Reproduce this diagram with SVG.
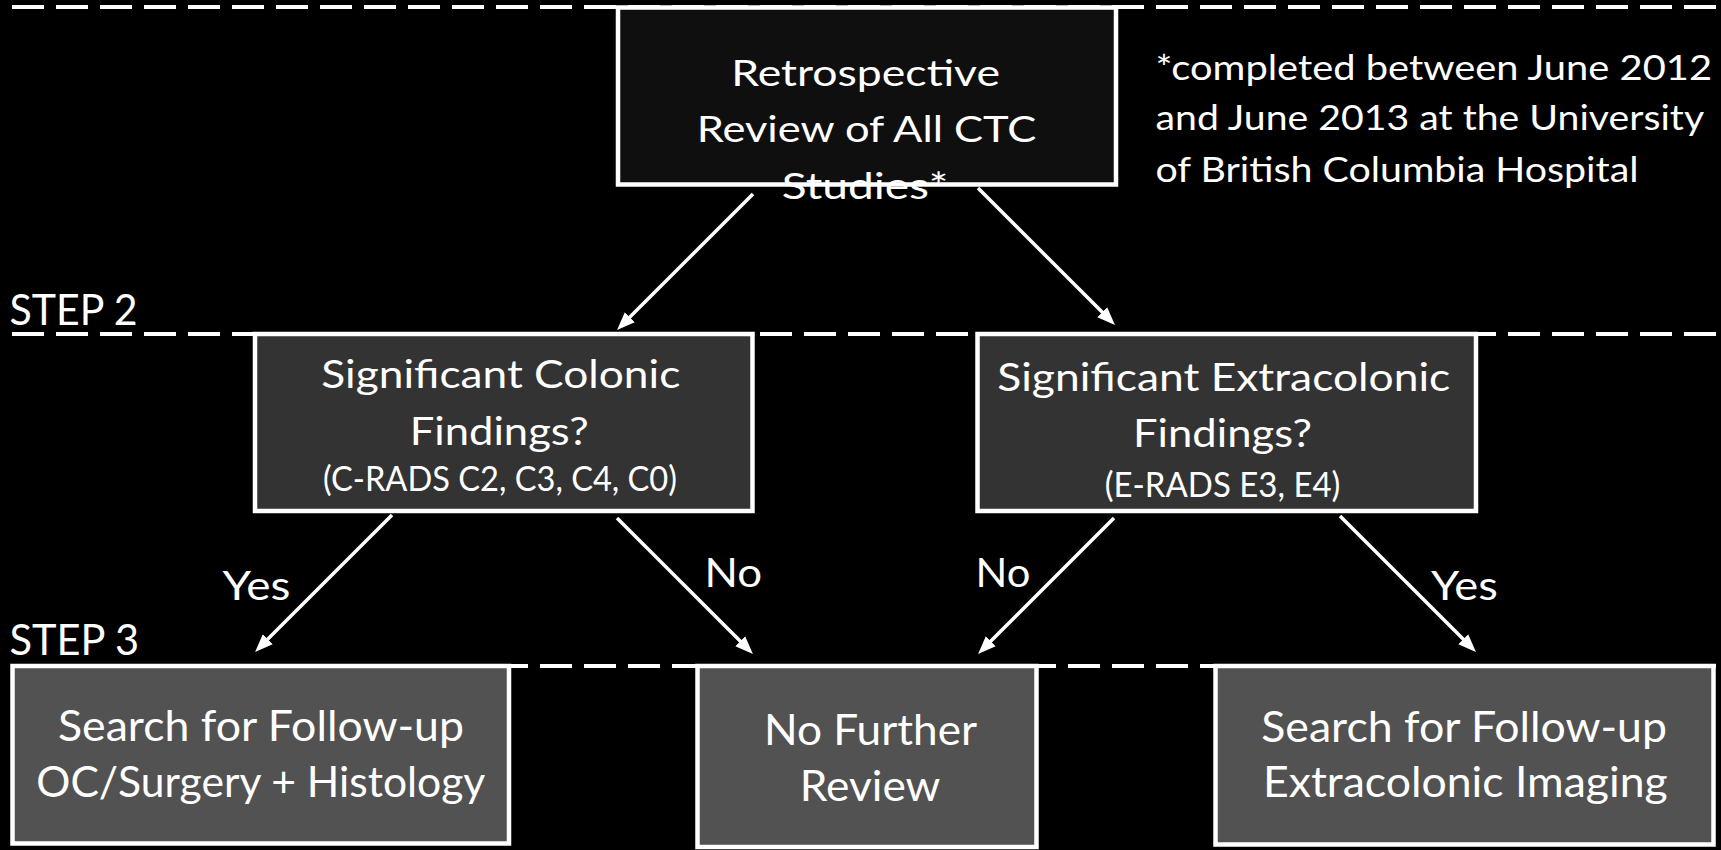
<svg xmlns="http://www.w3.org/2000/svg" width="1721" height="850" viewBox="0 0 1721 850">
<defs>
<style>
.bg{fill:#000}
.dash{stroke:#fff;stroke-width:4;stroke-dasharray:32 12;fill:none}
.box{stroke:#fff;stroke-width:4.5}
.b0{fill:#0f0f0f}
.b1{fill:#333333}
.b2{fill:#525252}
text{font-family:Lato,"Open Sans","Liberation Sans",sans-serif;fill:#fff}
.tf{font-size:35px}
.tt{font-size:36px}
.tm{font-size:39px}
.ts{font-size:35px}
.ty{font-size:40px}
.tb{font-size:42px}
.tstep{font-size:43px}
.arrow{stroke:#fff;stroke-width:3.5;fill:none;marker-end:url(#ah)}
</style>
<marker id="ah" markerUnits="userSpaceOnUse" markerWidth="19" markerHeight="15" refX="9" refY="7.5" orient="auto">
<path d="M0,0.5 L18,7.5 L0,14.5 z" fill="#fff"/>
</marker>
</defs>
<rect class="bg" x="0" y="0" width="1721" height="850"/>
<g id="step-lines">
<line class="dash" x1="12" y1="7" x2="1721" y2="7"/>
<line class="dash" x1="12" y1="334" x2="1721" y2="334"/>
<line class="dash" x1="12" y1="666" x2="1716" y2="666"/>
<text class="tstep" x="9.5" y="325" textLength="128" lengthAdjust="spacingAndGlyphs">STEP 2</text>
<text class="tstep" x="9.5" y="655" textLength="129.6" lengthAdjust="spacingAndGlyphs">STEP 3</text>
</g>
<g id="footnote">
<text class="tf" x="1155.5" y="80" textLength="556.5" lengthAdjust="spacingAndGlyphs">*completed between June 2012</text>
<text class="tf" x="1155.5" y="130" textLength="548.6" lengthAdjust="spacingAndGlyphs">and June 2013 at the University</text>
<text class="tf" x="1155.5" y="182" textLength="483" lengthAdjust="spacingAndGlyphs">of British Columbia Hospital</text>
</g>
<g id="connectors">
<line class="arrow" x1="753" y1="194" x2="623.4" y2="323.6"/>
<line class="arrow" x1="978" y1="188" x2="1108.6" y2="318.6"/>
<line class="arrow" x1="392" y1="515" x2="261.4" y2="645.6"/>
<line class="arrow" x1="617" y1="518" x2="746.6" y2="647.6"/>
<line class="arrow" x1="1114" y1="518" x2="984.4" y2="647.6"/>
<line class="arrow" x1="1340" y1="516" x2="1469.6" y2="645.6"/>
<text class="ty" x="222.5" y="600" textLength="67.8" lengthAdjust="spacingAndGlyphs">Yes</text>
<text class="ty" x="704.6" y="587" textLength="57.6" lengthAdjust="spacingAndGlyphs">No</text>
<text class="ty" x="975.5" y="587" textLength="54.8" lengthAdjust="spacingAndGlyphs">No</text>
<text class="ty" x="1431" y="600" textLength="66.8" lengthAdjust="spacingAndGlyphs">Yes</text>
</g>
<g id="node-retrospective">
<rect class="box b0" x="618" y="7.5" width="498" height="177"/>
<text class="tt" x="731.2" y="86" textLength="268.8" lengthAdjust="spacingAndGlyphs">Retrospective</text>
<text class="tt" x="696.7" y="142" textLength="339.7" lengthAdjust="spacingAndGlyphs">Review of All CTC</text>
<text class="tt" x="781.7" y="199" textLength="166.6" lengthAdjust="spacingAndGlyphs">Studies*</text>
</g>
<g id="node-colonic">
<rect class="box b1" x="255" y="334" width="497.5" height="177"/>
<text class="tm" x="321.3" y="388" textLength="359" lengthAdjust="spacingAndGlyphs">Significant Colonic</text>
<text class="tm" x="409.7" y="445" textLength="179" lengthAdjust="spacingAndGlyphs">Findings?</text>
<text class="ts" x="323" y="491" textLength="354" lengthAdjust="spacingAndGlyphs">(C-RADS C2, C3, C4, C0)</text>
</g>
<g id="node-extracolonic">
<rect class="box b1" x="977.5" y="334" width="498.5" height="177"/>
<text class="tm" x="997.3" y="391" textLength="453" lengthAdjust="spacingAndGlyphs">Significant Extracolonic</text>
<text class="tm" x="1133" y="446.5" textLength="179" lengthAdjust="spacingAndGlyphs">Findings?</text>
<text class="ts" x="1104.7" y="497" textLength="235.7" lengthAdjust="spacingAndGlyphs">(E-RADS E3, E4)</text>
</g>
<g id="node-histology">
<rect class="box b2" x="12.5" y="666" width="496.5" height="177.5"/>
<text class="tb" x="58" y="741" textLength="406" lengthAdjust="spacingAndGlyphs">Search for Follow-up</text>
<text class="tb" x="36.3" y="797" textLength="449" lengthAdjust="spacingAndGlyphs">OC/Surgery + Histology</text>
</g>
<g id="node-no-further">
<rect class="box b2" x="697.5" y="666" width="339" height="181"/>
<text class="tb" x="764" y="745" textLength="213" lengthAdjust="spacingAndGlyphs">No Further</text>
<text class="tb" x="799.7" y="801" textLength="140.7" lengthAdjust="spacingAndGlyphs">Review</text>
</g>
<g id="node-imaging">
<rect class="box b2" x="1215.5" y="666" width="498" height="178.5"/>
<text class="tb" x="1261.3" y="741.7" textLength="405.7" lengthAdjust="spacingAndGlyphs">Search for Follow-up</text>
<text class="tb" x="1263" y="797" textLength="404.7" lengthAdjust="spacingAndGlyphs">Extracolonic Imaging</text>
</g>
</svg>
